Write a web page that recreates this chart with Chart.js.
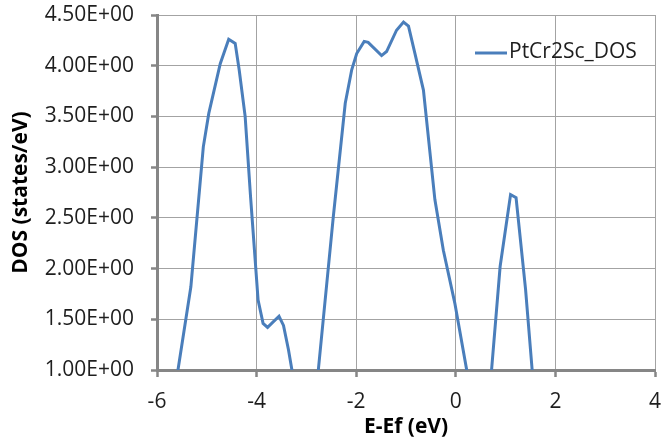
<!DOCTYPE html>
<html>
<head>
<meta charset="utf-8">
<title>PtCr2Sc DOS</title>
<script src="https://cdn.jsdelivr.net/npm/chart.js@4.4.0/dist/chart.umd.min.js"></script>
<style>
  body { margin: 0; background: #fff; }
  canvas { display: block; }
</style>
</head>
<body>
<canvas id="dosChart" width="672" height="440"></canvas>
<script>
// energy relative to Fermi level (eV) and density of states (states/eV)
const energy = [-6.0, -5.8, -5.32, -5.07, -4.96, -4.73, -4.56, -4.43, -4.35, -4.23, -4.12, -3.97, -3.87, -3.78, -3.55, -3.46, -3.36, -3.1, -2.9,
  -2.46, -2.22, -2.09, -1.99, -1.84, -1.76, -1.49, -1.39, -1.19, -1.05, -0.95, -0.82, -0.65, -0.42, -0.25, -0.02, 0.4, 0.6,
  0.89, 1.10, 1.21, 1.40, 1.65, 2.0, 3.0, 4.0];
const dos = [0.1, 0.3, 1.82, 3.20, 3.53, 4.02, 4.26, 4.22, 3.96, 3.50, 2.70, 1.69, 1.46, 1.42, 1.53, 1.44, 1.20, 0.45, 0.3,
  2.51, 3.63, 3.96, 4.12, 4.24, 4.23, 4.10, 4.14, 4.35, 4.43, 4.39, 4.12, 3.76, 2.68, 2.18, 1.66, 0.5, 0.3,
  2.02, 2.73, 2.70, 1.80, 0.3, 0.1, 0.1, 0.1];
const seriesName = 'PtCr2Sc_DOS';
const xTicks = { min: -6, max: 4, step: 2 };
const yTicks = { min: 1, max: 4.5, step: 0.5 };

const lineColor = '#4a7ebb';
const axisColor = '#868686';
const gridColor = '#a3a3a3';
const textColor = '#1e1e1e';
const fontFamily = '"Open Sans", "Liberation Sans", sans-serif';

// 4.5 -> "4.50E+00"
function sci(v) {
  const e = Math.floor(Math.log10(Math.abs(v)));
  const m = v / Math.pow(10, e);
  return m.toFixed(2) + 'E' + (e < 0 ? '-' : '+') + String(Math.abs(e)).padStart(2, '0');
}

const points = energy.map((x, i) => ({ x: x, y: dos[i] }));

// legend sits inside the plot, top right, no box
const insideLegend = {
  id: 'insideLegend',
  afterDraw(chart) {
    const ctx = chart.ctx;
    ctx.save();
    ctx.strokeStyle = lineColor;
    ctx.lineWidth = 3;
    ctx.beginPath();
    ctx.moveTo(475, 53);
    ctx.lineTo(507, 53);
    ctx.stroke();
    ctx.fillStyle = textColor;
    ctx.font = '21px ' + fontFamily;
    ctx.textBaseline = 'middle';
    ctx.textAlign = 'left';
    ctx.fillText(seriesName, 509, 52);
    ctx.restore();
  }
};

const chart = new Chart(document.getElementById('dosChart'), {
  type: 'line',
  data: {
    datasets: [{
      label: seriesName,
      data: points,
      borderColor: lineColor,
      borderWidth: 3,
      pointRadius: 0,
      tension: 0,
      fill: false,
      clip: 0
    }]
  },
  options: {
    responsive: false,
    animation: false,
    devicePixelRatio: 1,
    layout: { padding: { top: 15, right: 17, left: 0, bottom: 0 } },
    plugins: {
      legend: { display: false },
      tooltip: { enabled: false }
    },
    scales: {
      x: {
        type: 'linear',
        min: xTicks.min,
        max: xTicks.max,
        afterFit(scale) {
          scale.height = 70;
          scale.paddingLeft = 0;
          scale.paddingRight = 0;
        },
        ticks: {
          stepSize: xTicks.step,
          color: textColor,
          padding: 12,
          maxRotation: 0,
          font: { family: fontFamily, size: 21 }
        },
        grid: { color: gridColor, lineWidth: 1, tickLength: 7, tickColor: axisColor, tickWidth: 2.5 },
        border: { color: axisColor, width: 3 },
        title: {
          display: true,
          text: 'E-Ef (eV)',
          color: '#000',
          font: { family: fontFamily, size: 21, weight: 'bold' },
          padding: { top: 0, bottom: 0 }
        }
      },
      y: {
        min: yTicks.min,
        max: yTicks.max,
        afterFit(scale) {
          scale.width = 157;
          scale.paddingTop = 0;
          scale.paddingBottom = 0;
        },
        ticks: {
          stepSize: yTicks.step,
          color: textColor,
          padding: 17,
          font: { family: fontFamily, size: 21 },
          callback: (v) => sci(v)
        },
        grid: { color: gridColor, lineWidth: 1, tickLength: 6, tickColor: axisColor, tickWidth: 2.5 },
        border: { color: axisColor, width: 3 },
        title: {
          display: true,
          text: 'DOS (states/eV)',
          color: '#000',
          font: { family: fontFamily, size: 21, weight: 'bold' },
          padding: { top: 8, bottom: 0 }
        }
      }
    }
  },
  plugins: [insideLegend]
});
</script>
</body>
</html>
